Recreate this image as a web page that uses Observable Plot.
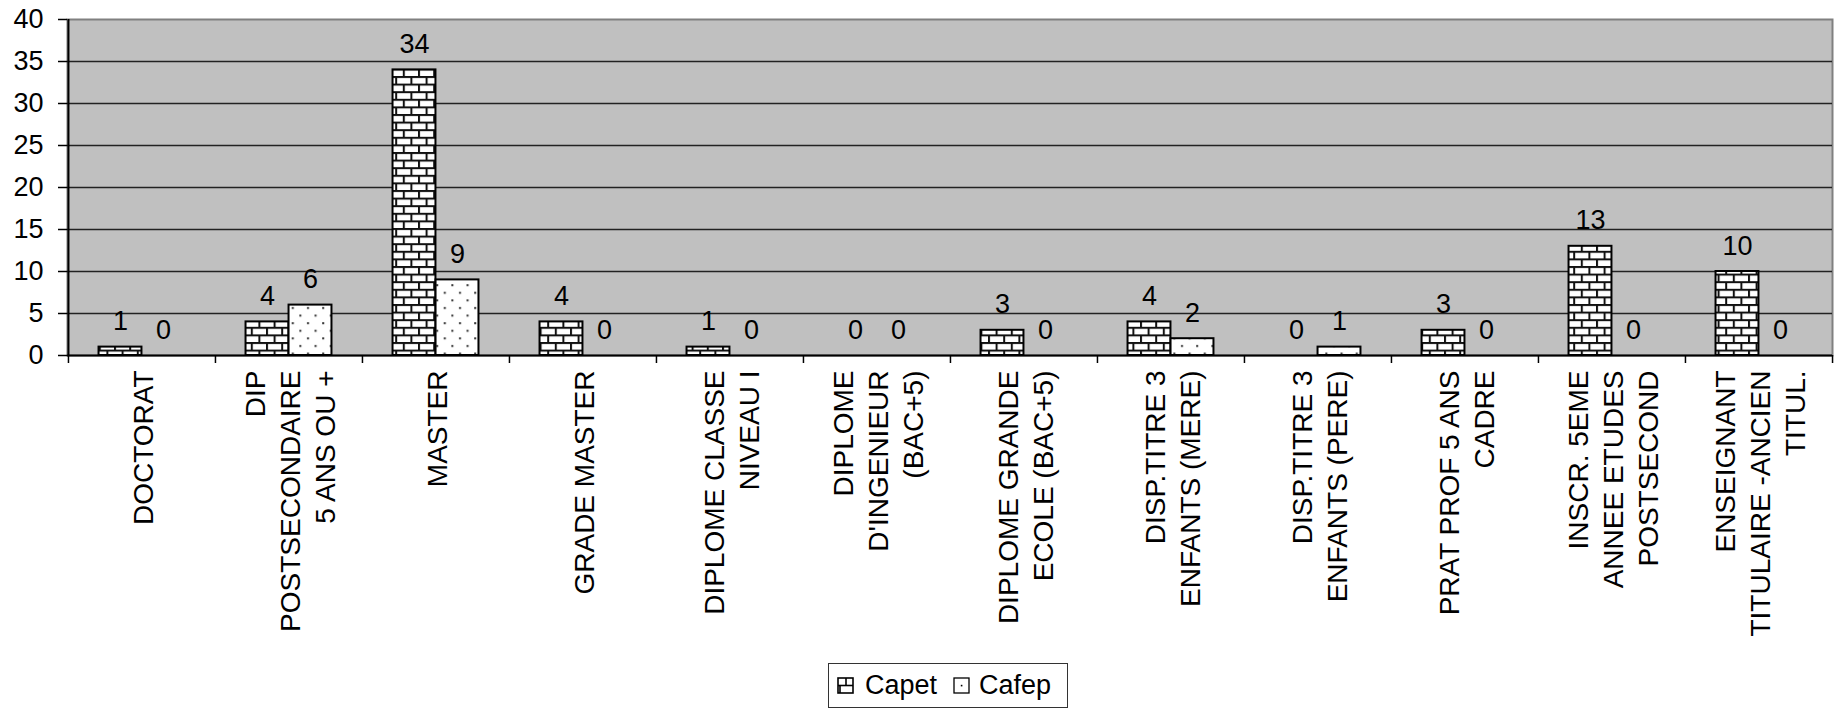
<!DOCTYPE html>
<html>
<head>
<meta charset="utf-8">
<script src="https://cdn.jsdelivr.net/npm/d3@7"></script>
<script src="https://cdn.jsdelivr.net/npm/@observablehq/plot@0.6"></script>
<style>
  body { margin: 0; background: #fff; font-family: "Liberation Sans", Arial, sans-serif; }
  #wrap { position: relative; width: 1845px; height: 709px; overflow: hidden; }
  #legend { position: absolute; left: 828px; top: 663px; width: 238px; height: 43px;
            border: 1px solid #333; display: flex; align-items: center; font-size: 27px; color: #000; box-sizing: content-box; }
  #legend .sw { display: inline-block; }
  g[aria-label="category labels"] text { letter-spacing: 0.5px; }
</style>
</head>
<body>
<svg width="0" height="0" style="position:absolute">
  <defs>
    <pattern id="brick" patternUnits="userSpaceOnUse" width="15.2" height="15.2">
      <rect width="15.2" height="15.2" fill="#fff"/>
      <rect x="0" y="0" width="15.2" height="2" fill="#111"/>
      <rect x="0" y="7.6" width="15.2" height="2" fill="#111"/>
      <rect x="0" y="0" width="2" height="7.6" fill="#111"/>
      <rect x="7.6" y="7.6" width="2" height="7.6" fill="#111"/>
    </pattern>
    <pattern id="dots" patternUnits="userSpaceOnUse" width="15.2" height="15.2">
      <rect width="15.2" height="15.2" fill="#fff"/>
      <rect x="3" y="3" width="2" height="2" fill="#333"/>
      <rect x="10.6" y="10.6" width="2" height="2" fill="#333"/>
    </pattern>
  </defs>
</svg>
<div id="wrap">
  <div id="chart"></div>
  <div id="legend">
    <svg class="sw" width="17" height="17" style="margin-left:8px"><rect x="1" y="1" width="15" height="15" fill="#fff" stroke="#000" stroke-width="1.6"/><line x1="1" y1="8.5" x2="16" y2="8.5" stroke="#000" stroke-width="1.6"/><line x1="9" y1="1" x2="9" y2="8.5" stroke="#000" stroke-width="1.6"/><line x1="3" y1="8.5" x2="3" y2="16" stroke="#000" stroke-width="1.6"/></svg>
    <span style="margin-left:11px">Capet</span>
    <svg class="sw" width="17" height="17" style="margin-left:16px"><rect x="1" y="1" width="15" height="15" fill="#fff" stroke="#000" stroke-width="1.3"/><rect x="7.8" y="7.8" width="1.6" height="1.6" fill="#000"/></svg>
    <span style="margin-left:9px">Cafep</span>
  </div>
</div>
<script>
// ---- data ----
const categories = [
  "DOCTORAT",
  "DIP\nPOSTSECONDAIRE\n5 ANS OU +",
  "MASTER",
  "GRADE MASTER",
  "DIPLOME CLASSE\nNIVEAU I",
  "DIPLOME\nD'INGENIEUR\n(BAC+5)",
  "DIPLOME GRANDE\nECOLE (BAC+5)",
  "DISP.TITRE 3\nENFANTS (MERE)",
  "DISP.TITRE 3\nENFANTS (PERE)",
  "PRAT PROF 5 ANS\nCADRE",
  "INSCR. 5EME\nANNEE ETUDES\nPOSTSECOND",
  "ENSEIGNANT\nTITULAIRE -ANCIEN\nTITUL."
];
const capet = [1, 4, 34, 4, 1, 0, 3, 4, 0, 3, 13, 10];
const cafep = [0, 6, 9, 0, 0, 0, 0, 2, 1, 0, 0, 0];
const series = ["Capet", "Cafep"];
const yTicks = [0, 5, 10, 15, 20, 25, 30, 35, 40];

// ---- layout ----
const W = 1845, H = 660;
const ML = 67, MR = 13, MT = 19, MB = 305;
const step = (W - ML - MR) / categories.length;
const barW = step / 3.42;
const halfGap = (step - 2 * barW) / 2;

const capetRows = categories.map((c, i) => ({cat: c, series: series[0], value: capet[i]}));
const cafepRows = categories.map((c, i) => ({cat: c, series: series[1], value: cafep[i]}));

const plot = Plot.plot({
  width: W, height: H,
  marginLeft: ML, marginRight: MR, marginTop: MT, marginBottom: MB,
  style: {fontFamily: "'Liberation Sans', Arial, sans-serif", color: "#000", background: "transparent", overflow: "visible"},
  x: {type: "band", domain: categories, padding: 0},
  y: {domain: [0, 40]},
  marks: [
    Plot.frame({fill: "#c0c0c0", stroke: "#808080", strokeWidth: 2}),
    Plot.gridY(yTicks.filter(t => t > 0 && t < 40), {stroke: "#222", strokeOpacity: 1, strokeWidth: 1.5}),
    Plot.barY(capetRows, {x: "cat", y: "value", fill: "url(#brick)", stroke: "#000", strokeWidth: 2,
      insetLeft: halfGap, insetRight: halfGap + barW}),
    Plot.barY(cafepRows, {x: "cat", y: "value", fill: "url(#dots)", stroke: "#000", strokeWidth: 2,
      insetLeft: halfGap + barW, insetRight: halfGap}),
    Plot.ruleY([0], {stroke: "#000", strokeWidth: 2}),
    Plot.ruleX([categories[0]], {dx: -step / 2, stroke: "#000", strokeWidth: 2}),
    Plot.axisY({ticks: yTicks, tickSize: 9, tickPadding: 15, fontSize: 27, label: null, strokeWidth: 1.5}),
    Plot.axisX({ticks: categories, tickSize: 8, tickFormat: () => "", dx: -step / 2, label: null, strokeWidth: 1.5}),
    Plot.axisX({ticks: [categories[categories.length - 1]], tickSize: 8, tickFormat: () => "", dx: step / 2, label: null, strokeWidth: 1.5}),
    Plot.text(capetRows, {x: "cat", y: "value", text: d => String(d.value), dx: -barW / 2, dy: -17,
      lineAnchor: "bottom", fontSize: 27, fill: "#000"}),
    Plot.text(cafepRows, {x: "cat", y: "value", text: d => String(d.value), dx: barW / 2, dy: -17,
      lineAnchor: "bottom", fontSize: 27, fill: "#000"}),
    Plot.text(categories, {x: d => d, frameAnchor: "bottom", text: d => d, rotate: -90,
      textAnchor: "end", lineAnchor: "middle", lineHeight: 1.25, fontSize: 28, dy: 15,
      fill: "#000", ariaLabel: "category labels"})
  ]
});
document.getElementById("chart").appendChild(plot);

// center the wrapped lines of each category label on one another (as in the source)
plot.querySelectorAll('g[aria-label="category labels"] text').forEach(t => {
  const spans = t.querySelectorAll("tspan");
  if (spans.length < 2) return;
  const max = Math.max(...Array.from(spans, s => s.getComputedTextLength()));
  t.setAttribute("text-anchor", "middle");
  spans.forEach(s => s.setAttribute("x", -max / 2));
});
</script>
</body>
</html>
